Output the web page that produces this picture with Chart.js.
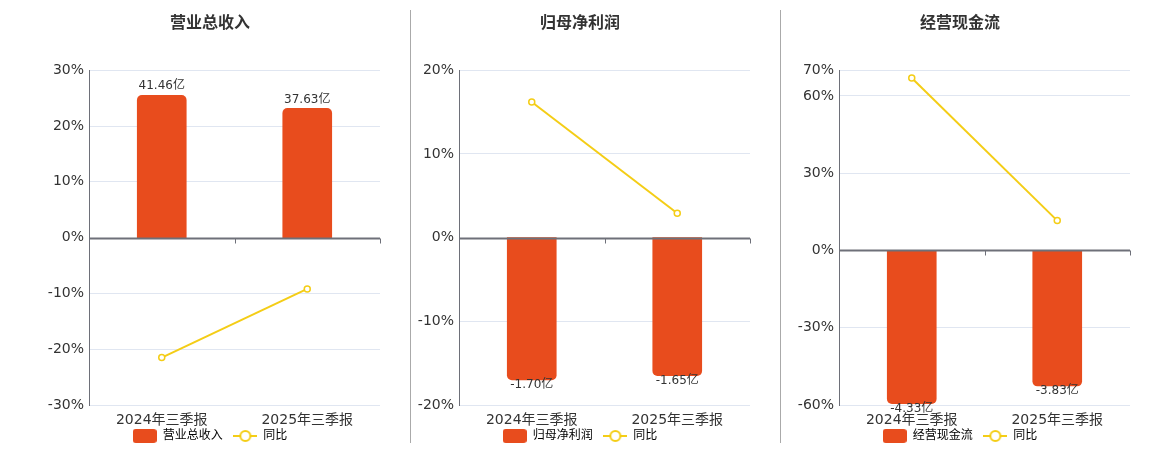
<!DOCTYPE html>
<html lang="zh">
<head>
  <meta charset="UTF-8" />
  <title>财务指标</title>
  <script src="https://cdn.jsdelivr.net/npm/chart.js"></script>
  <style>
    html, body {
      margin: 0;
      padding: 0;
      background: #fff;
      width: 1160px;
      height: 450px;
      overflow: hidden;
    }
    .panel {
      position: absolute;
      top: 0;
      width: 370px;
      height: 452px;
    }
    .sep {
      position: absolute;
      top: 10px;
      width: 1px;
      height: 433px;
      background: #aaa;
    }
  </style>
</head>
<body>
  <div class="panel" style="left:25px"><canvas id="c1" width="370" height="452"></canvas></div>
  <div class="panel" style="left:395px"><canvas id="c2" width="370" height="452"></canvas></div>
  <div class="panel" style="left:775px"><canvas id="c3" width="370" height="452"></canvas></div>
  <div class="sep" style="left:410px"></div>
  <div class="sep" style="left:780px"></div>

  <script>
    // data
    const categories = ['2024年三季报', '2025年三季报'];

    const revenueValues = [41.46, 37.63];   // 亿
    const revenueYoy = [-21.5, -9.2];       // %
    const revenueTicks = [-30, -20, -10, 0, 10, 20, 30];

    const profitValues = [-1.70, -1.65];
    const profitYoy = [16.2, 2.9];
    const profitTicks = [-20, -10, 0, 10, 20];

    const cashValues = [-4.33, -3.83];
    const cashYoy = [67.0, 11.6];
    const cashTicks = [-60, -30, 0, 30, 60, 70];

    const BAR = '#e84c1d';
    const LINE = '#f4cd16';
    const AXIS = '#6e7079';

    Chart.defaults.font.family = "'DejaVu Sans', 'Noto Sans CJK SC', sans-serif";
    Chart.defaults.color = '#333';

    // legend icons
    function barIcon() {
      const c = document.createElement('canvas');
      c.width = 24; c.height = 14;
      const g = c.getContext('2d');
      g.fillStyle = BAR;
      g.beginPath();
      g.roundRect(0, 0, 24, 14, 3);
      g.fill();
      return c;
    }
    function lineIcon() {
      const c = document.createElement('canvas');
      c.width = 24; c.height = 14;
      const g = c.getContext('2d');
      g.strokeStyle = LINE;
      g.lineWidth = 2;
      g.beginPath();
      g.moveTo(0, 7); g.lineTo(24, 7);
      g.stroke();
      g.fillStyle = '#fff';
      g.beginPath();
      g.arc(12, 7, 5, 0, Math.PI * 2);
      g.fill();
      g.stroke();
      return c;
    }

    // value labels on the bars
    const barLabels = {
      id: 'barLabels',
      afterDatasetsDraw(chart) {
        const ctx = chart.ctx;
        const meta = chart.getDatasetMeta(0);
        const data = chart.data.datasets[0].data;
        ctx.save();
        ctx.font = "12px 'DejaVu Sans', 'Noto Sans CJK SC', sans-serif";
        ctx.fillStyle = '#333';
        ctx.textAlign = 'center';
        meta.data.forEach((el, i) => {
          const v = data[i];
          const txt = v.toFixed(2) + '亿';
          if (v >= 0) {
            ctx.textBaseline = 'bottom';
            ctx.fillText(txt, el.x, el.y - 3);
          } else {
            ctx.textBaseline = 'top';
            ctx.fillText(txt, el.x, el.y - 1);
          }
        });
        ctx.restore();
      }
    };

    // zero line with category ticks
    const zeroAxis = {
      id: 'zeroAxis',
      afterDatasetsDraw(chart) {
        const ctx = chart.ctx;
        const area = chart.chartArea;
        const y0 = Math.round(chart.scales.y.getPixelForValue(0)) + 0.5;
        ctx.save();
        ctx.strokeStyle = AXIS;
        ctx.lineWidth = 2;
        ctx.beginPath();
        ctx.moveTo(area.left, y0);
        ctx.lineTo(area.right, y0);
        ctx.stroke();
        ctx.lineWidth = 1;
        const n = categories.length;
        for (let i = 0; i <= n; i++) {
          const x = Math.round(area.left + (area.right - area.left) * i / n) + 0.5;
          ctx.beginPath();
          ctx.moveTo(x, y0);
          ctx.lineTo(x, y0 + 5);
          ctx.stroke();
        }
        ctx.restore();
      }
    };

    function makeChart(id, title, name, values, yoy, ticks) {
      const pMin = ticks[0];
      const pMax = ticks[ticks.length - 1];
      const maxAbs = Math.max(...values.map(Math.abs));
      const k = maxAbs / 0.85 / Math.max(Math.abs(pMin), Math.abs(pMax));

      new Chart(document.getElementById(id), {
        data: {
          labels: categories,
          datasets: [
            {
              type: 'bar',
              label: name,
              data: values,
              yAxisID: 'yBar',
              backgroundColor: BAR,
              barThickness: 49,
              borderRadius: 5,
              borderSkipped: 'start',
              order: 1
            },
            {
              type: 'line',
              label: '同比',
              data: yoy,
              yAxisID: 'y',
              borderColor: LINE,
              borderWidth: 2,
              pointRadius: 3,
              pointBackgroundColor: '#fff',
              pointBorderColor: LINE,
              pointBorderWidth: 1.5,
              order: 0
            }
          ]
        },
        options: {
          responsive: false,
          animation: false,
          layout: { padding: 0 },
          plugins: {
            tooltip: { enabled: false },
            title: {
              display: true,
              text: title,
              color: '#333',
              font: { size: 16, weight: 'bold' },
              padding: { top: 14, bottom: 37 }
            },
            legend: {
              position: 'bottom',
              labels: {
                usePointStyle: true,
                pointStyleWidth: 24,
                boxHeight: 14,
                padding: 3,
                font: { size: 12 },
                color: '#333',
                generateLabels: () => [
                  { text: name + '  ', pointStyle: barIcon(), datasetIndex: 0, lineWidth: 0, strokeStyle: 'transparent', fillStyle: BAR },
                  { text: '同比', pointStyle: lineIcon(), datasetIndex: 1, lineWidth: 0, strokeStyle: 'transparent', fillStyle: LINE }
                ]
              }
            }
          },
          scales: {
            x: {
              grid: { display: false, drawTicks: false },
              border: { display: false },
              ticks: { font: { size: 14 }, color: '#333', padding: 7 },
              afterFit: s => { s.height = 22; }
            },
            y: {
              position: 'left',
              min: pMin,
              max: pMax,
              afterBuildTicks: s => { s.ticks = ticks.map(v => ({ value: v })); },
              ticks: {
                font: { size: 14 },
                color: '#333',
                padding: 5,
                callback: v => v + '%'
              },
              grid: {
                drawTicks: false,
                color: c => (c.tick && c.tick.value === 0) ? 'rgba(0,0,0,0)' : '#e0e6f1'
              },
              border: { display: true, color: AXIS, width: 1 },
              afterFit: s => { s.width = 64; }
            },
            yBar: {
              position: 'right',
              min: pMin * k,
              max: pMax * k,
              ticks: { display: false },
              grid: { display: false, drawTicks: false },
              border: { display: false },
              afterFit: s => { s.width = 15; }
            }
          }
        },
        plugins: [barLabels, zeroAxis]
      });
    }

    makeChart('c1', '营业总收入', '营业总收入', revenueValues, revenueYoy, revenueTicks);
    makeChart('c2', '归母净利润', '归母净利润', profitValues, profitYoy, profitTicks);
    makeChart('c3', '经营现金流', '经营现金流', cashValues, cashYoy, cashTicks);
  </script>
</body>
</html>
